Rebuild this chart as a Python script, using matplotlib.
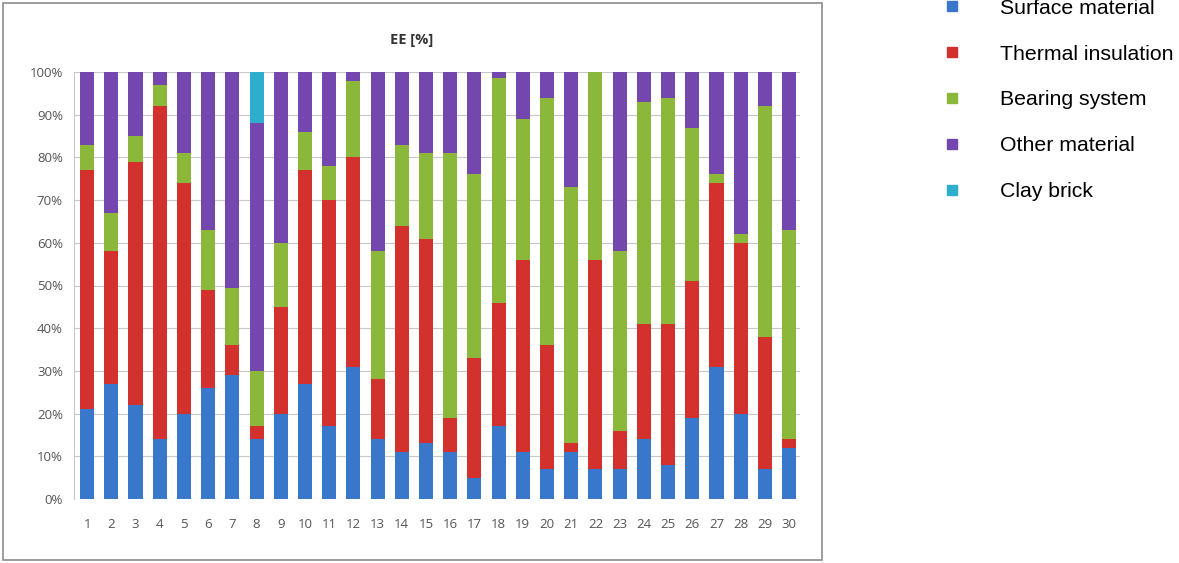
import matplotlib
matplotlib.use("Agg")
import matplotlib.pyplot as plt
import numpy as np
from matplotlib.lines import Line2D
from matplotlib.patches import Rectangle

# case numbers
cases = np.arange(1, 31)

# shares in %
surface = [21, 27, 22, 14, 20, 26, 29, 14, 20, 27, 17, 31, 14, 11, 13,
           11, 5, 17, 11, 7, 11, 7, 7, 14, 8, 19, 31, 20, 7, 12]
thermal = [56, 31, 57, 78, 54, 23, 7, 3, 25, 50, 53, 49, 14, 53, 48,
           8, 28, 29, 45, 29, 2, 49, 9, 27, 33, 32, 43, 40, 31, 2]
bearing = [6, 9, 6, 5, 7, 14, 13.5, 13, 15, 9, 8, 18, 30, 19, 20,
           62, 43, 52.5, 33, 58, 60, 44, 42, 52, 53, 36, 2, 2, 54, 49]
clay = [0] * 30
clay[7] = 12
other = [100 - s - t - b - c for s, t, b, c in zip(surface, thermal, bearing, clay)]

names = ["Surface material", "Thermal insulation", "Bearing system",
         "Other material", "Clay brick"]
colors = ["#3877C9", "#D3312E", "#8BB83A", "#7347AD", "#2EADCC"]
series = [surface, thermal, bearing, other, clay]

plt.rcParams['font.family'] = ['Open Sans', 'DejaVu Sans']

fig = plt.figure(figsize=(11.79, 5.63), dpi=100)
ax = fig.add_axes([74 / 1179, 64 / 563, 726 / 1179, 427 / 563])

bottom = np.zeros(30)
for vals, c in zip(series, colors):
    ax.bar(cases, vals, bottom=bottom, width=0.58, color=c, edgecolor='none', zorder=3)
    bottom += np.array(vals)

ax.set_ylim(0, 100)
ax.set_xlim(0.46, 30.45)
ax.set_yticks(np.arange(0, 101, 10))
ax.set_yticklabels([f"{v}%" for v in range(0, 101, 10)])
ax.set_xticks(cases)
ax.tick_params(axis='both', length=0, labelsize=9.5, colors='#555555')
ax.tick_params(axis='x', pad=14)
ax.tick_params(axis='y', pad=8)
ax.grid(axis='y', color='#C8C8C8', linewidth=0.8, zorder=0)
for s in ['top', 'right', 'bottom']:
    ax.spines[s].set_visible(False)
ax.spines['left'].set_color('#C8C8C8')

fig.text(412 / 1179, 1 - 40 / 563, "EE [%]", ha='center', va='center',
         fontsize=10.5, fontweight='bold', color='#333333')

# chart frame
fig.patches.append(Rectangle((3 / 1179, 3 / 563), 819 / 1179, 557 / 563,
                             transform=fig.transFigure, fill=False,
                             edgecolor='#8C8C8C', linewidth=1.2))

handles = [Line2D([], [], marker='s', linestyle='none', markersize=7, color=c)
           for c in colors]
fig.legend(handles, names, loc='upper left', bbox_to_anchor=(922 / 1179, 1.036),
           frameon=False, prop={'family': 'Liberation Sans', 'size': 15.3},
           labelspacing=1.26, handletextpad=1.76, handlelength=1.0)

fig.savefig("out.png", dpi=100)
